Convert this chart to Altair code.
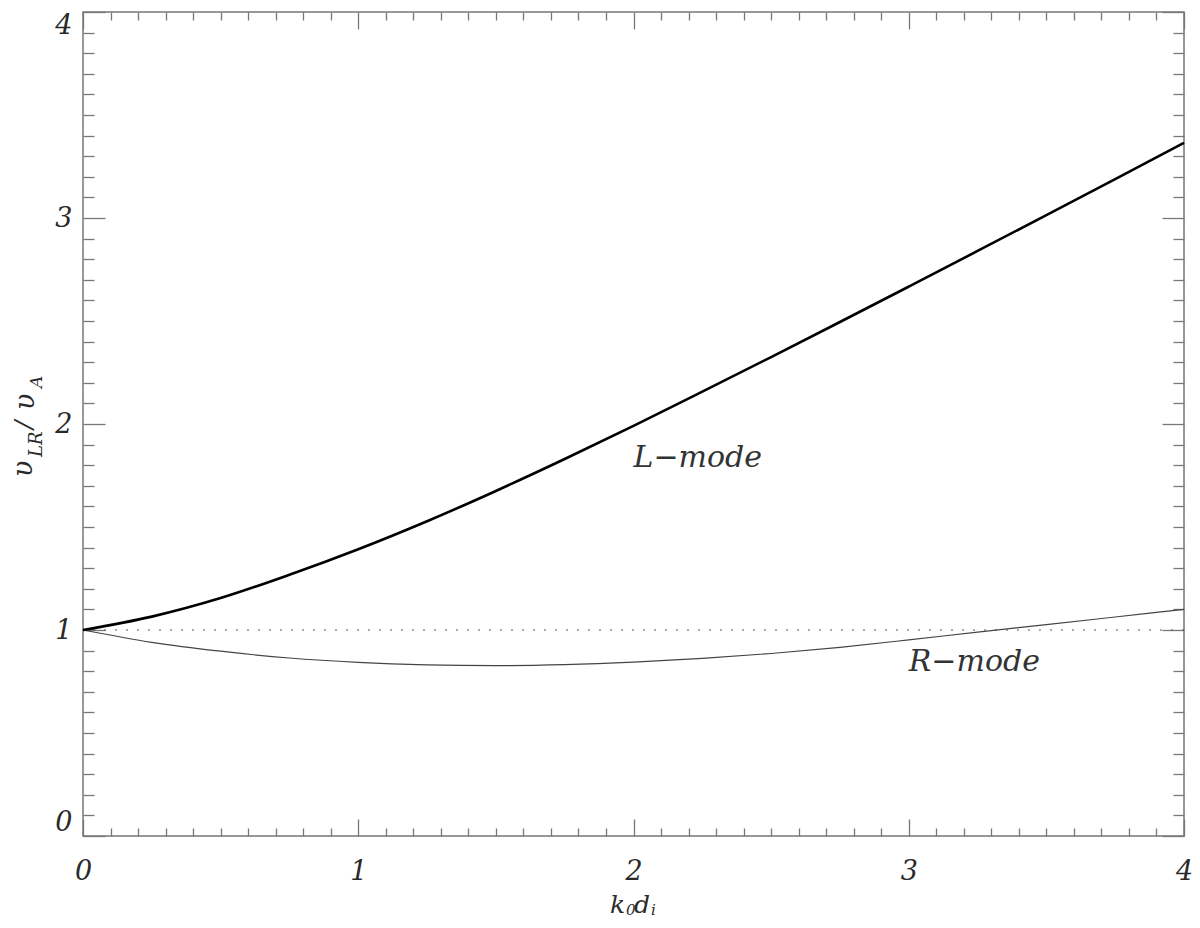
import altair as alt
import pandas as pd

# ---- data ----
k_values = [0.0, 0.25, 0.5, 0.75, 1.0, 1.25, 1.5, 1.75, 2.0, 2.25, 2.5, 2.75,
            3.0, 3.25, 3.5, 3.75, 4.0]
l_mode = [1.0, 1.065, 1.155, 1.268, 1.392, 1.528, 1.675, 1.83, 1.991, 2.157,
          2.325, 2.495, 2.667, 2.84, 3.014, 3.189, 3.365]
r_mode = [1.0, 0.94, 0.897, 0.864, 0.843, 0.831, 0.827, 0.832, 0.844, 0.862,
          0.886, 0.916, 0.952, 0.990, 1.026, 1.063, 1.100]
ref_level = [1.0]

ann_x = [2.0, 3.0]
ann_y = [1.79, 0.80]
ann_text = ["L\u2212mode", "R\u2212mode"]

major_ticks = [0, 1, 2, 3, 4]
minor_ticks = [round(i / 10, 1) for i in range(41) if i % 10 != 0]

y_title_parts = ["\u03c5", "LR", "/", "\u03c5", "A"]
x_title_parts = ["k", "0", "d", "i"]

# ---- layout / style ----
W, H = 1101, 824
FONT = "DejaVu Serif"
AX = "#777777"
TXT = "#2a2a2a"

df_l = pd.DataFrame({"k": k_values, "v": l_mode})
df_r = pd.DataFrame({"k": k_values, "v": r_mode})
df_ref = pd.DataFrame({"y": ref_level})
df_ann = pd.DataFrame({"x": ann_x, "y": ann_y, "t": ann_text})

xs = alt.Scale(domain=[0, 4], nice=False, zero=False)
ys = alt.Scale(domain=[0, 4], nice=False, zero=False)


def tick_axis(orient, offset, values, size):
    return alt.Axis(orient=orient, offset=offset, values=values, tickSize=size,
                    ticks=True, labels=False, domain=False, grid=False,
                    title=None, tickColor=AX, tickWidth=1.3)


def axis_layer(xaxis, yaxis):
    return alt.Chart(df_l).mark_point(opacity=0).encode(
        x=alt.X("k:Q", scale=xs, axis=xaxis),
        y=alt.Y("v:Q", scale=ys, axis=yaxis),
    )


label_x_axis = alt.Axis(orient="bottom", values=major_ticks, ticks=False, tickSize=0,
                        domain=False, grid=False, title=None, format="d",
                        labelFont=FONT, labelFontStyle="italic", labelFontSize=27,
                        labelColor=TXT, labelPadding=22, labelFlush=False)
label_y_axis = alt.Axis(orient="left", values=major_ticks, ticks=False, tickSize=0,
                        domain=False, grid=False, title=None, format="d",
                        labelFont=FONT, labelFontStyle="italic", labelFontSize=27,
                        labelColor=TXT, labelPadding=11, labelFlush=True)

layers = [
    axis_layer(label_x_axis, label_y_axis),
    # inward ticks at bottom / left
    axis_layer(tick_axis("top", -H, major_ticks, 17), tick_axis("right", -W, major_ticks, 22)),
    axis_layer(tick_axis("top", -H, minor_ticks, 8), tick_axis("right", -W, minor_ticks, 11)),
    # inward ticks at top / right
    axis_layer(tick_axis("bottom", -H, major_ticks, 17), tick_axis("left", -W, major_ticks, 22)),
    axis_layer(tick_axis("bottom", -H, minor_ticks, 8), tick_axis("left", -W, minor_ticks, 11)),
]

ref_rule = alt.Chart(df_ref).mark_rule(strokeDash=[2, 9], color="#555555", strokeWidth=1).encode(
    y=alt.Y("y:Q", scale=ys, axis=None)
)

l_line = alt.Chart(df_l).mark_line(interpolate="monotone", color="#000000", strokeWidth=2.6).encode(
    x=alt.X("k:Q", scale=xs, axis=None), y=alt.Y("v:Q", scale=ys, axis=None)
)
r_line = alt.Chart(df_r).mark_line(interpolate="monotone", color="#444444", strokeWidth=1.2).encode(
    x=alt.X("k:Q", scale=xs, axis=None), y=alt.Y("v:Q", scale=ys, axis=None)
)

ann = alt.Chart(df_ann).mark_text(font=FONT, fontStyle="italic", fontSize=30, color="#333333",
                                  align="left", baseline="alphabetic").encode(
    x=alt.X("x:Q", scale=xs, axis=None), y=alt.Y("y:Q", scale=ys, axis=None), text="t:N"
)


def title_piece(txt, px, py, size, angle=0):
    kw = dict(font=FONT, fontStyle="italic", fontSize=size, color=TXT,
              align="left", baseline="alphabetic")
    if angle:
        kw["angle"] = angle
    return alt.Chart(pd.DataFrame({"t": [txt]})).mark_text(**kw).encode(
        text="t:N", x=alt.value(px), y=alt.value(py)
    )


# pixel offsets relative to the plot's top-left corner
y_pos = [(-51, 465, 27), (-41, 445, 18), (-51, 417, 25), (-49, 398, 27), (-41, 376, 17)]
x_pos = [(527, 901, 25), (543, 903, 15), (551, 901, 25), (568, 903, 15)]

titles = [title_piece(t, p[0], p[1], p[2], 270) for t, p in zip(y_title_parts, y_pos)]
titles += [title_piece(t, p[0], p[1], p[2]) for t, p in zip(x_title_parts, x_pos)]

chart = alt.layer(*layers, ref_rule, r_line, l_line, ann, *titles).resolve_axis(
    x="independent", y="independent"
).properties(
    width=W, height=H,
    padding={"left": 75, "top": 4, "right": 8, "bottom": 83},
    autosize=alt.AutoSizeParams(type="none"),
).configure_view(stroke=AX, strokeWidth=1.5)

chart.save("out.html", embed_options={"renderer": "svg", "actions": False})
